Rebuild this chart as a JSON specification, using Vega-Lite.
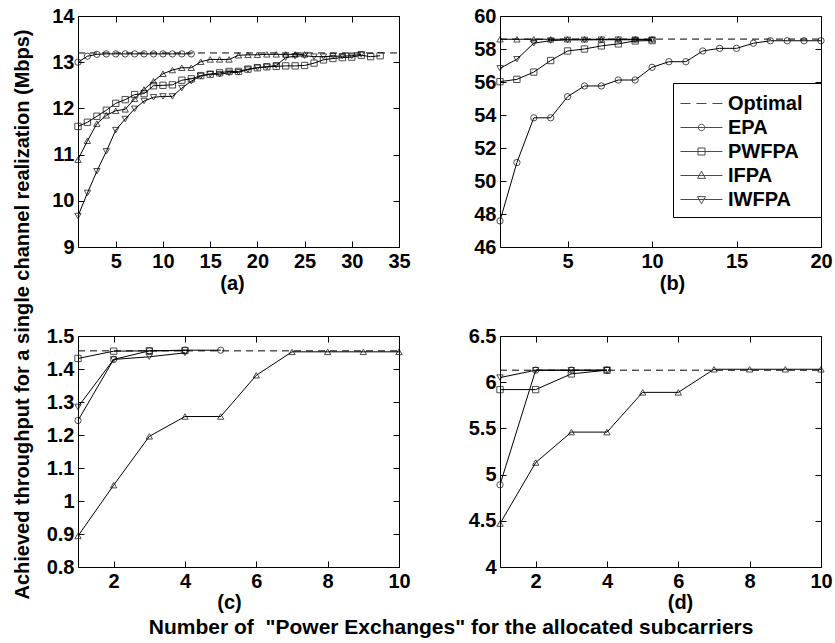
{
"$schema": "https://vega.github.io/schema/vega-lite/v6.json",
"padding": {"left": 12, "top": 5, "right": 5, "bottom": 3},
"title": {"text": "Achieved throughput for a single channel realization (Mbps)", "orient": "left", "anchor": "middle", "offset": 13, "dx": 7},
"datasets": {
"a": [
{"s":"Optimal","x":1,"y":13.2},{"s":"Optimal","x":35,"y":13.2},
{"s":"EPA","x":1,"y":13.0},{"s":"EPA","x":2,"y":13.13},{"s":"EPA","x":3,"y":13.17},{"s":"EPA","x":4,"y":13.18},{"s":"EPA","x":5,"y":13.18},{"s":"EPA","x":6,"y":13.18},{"s":"EPA","x":7,"y":13.18},{"s":"EPA","x":8,"y":13.18},{"s":"EPA","x":9,"y":13.18},{"s":"EPA","x":10,"y":13.18},{"s":"EPA","x":11,"y":13.18},{"s":"EPA","x":12,"y":13.18},{"s":"EPA","x":13,"y":13.18},
{"s":"PWFPA","x":1,"y":11.61},{"s":"PWFPA","x":2,"y":11.70},{"s":"PWFPA","x":3,"y":11.83},{"s":"PWFPA","x":4,"y":11.96},{"s":"PWFPA","x":5,"y":12.11},{"s":"PWFPA","x":6,"y":12.19},{"s":"PWFPA","x":7,"y":12.30},{"s":"PWFPA","x":8,"y":12.32},{"s":"PWFPA","x":9,"y":12.49},{"s":"PWFPA","x":10,"y":12.50},{"s":"PWFPA","x":11,"y":12.51},{"s":"PWFPA","x":12,"y":12.61},{"s":"PWFPA","x":13,"y":12.64},{"s":"PWFPA","x":14,"y":12.71},{"s":"PWFPA","x":15,"y":12.74},{"s":"PWFPA","x":16,"y":12.77},{"s":"PWFPA","x":17,"y":12.80},{"s":"PWFPA","x":18,"y":12.80},{"s":"PWFPA","x":19,"y":12.85},{"s":"PWFPA","x":20,"y":12.88},{"s":"PWFPA","x":21,"y":12.90},{"s":"PWFPA","x":22,"y":12.91},{"s":"PWFPA","x":23,"y":12.92},{"s":"PWFPA","x":24,"y":12.92},{"s":"PWFPA","x":25,"y":12.93},{"s":"PWFPA","x":26,"y":12.98},{"s":"PWFPA","x":27,"y":13.05},{"s":"PWFPA","x":28,"y":13.08},{"s":"PWFPA","x":29,"y":13.10},{"s":"PWFPA","x":30,"y":13.11},{"s":"PWFPA","x":31,"y":13.15},{"s":"PWFPA","x":32,"y":13.12},{"s":"PWFPA","x":33,"y":13.14},
{"s":"IFPA","x":1,"y":10.89},{"s":"IFPA","x":2,"y":11.30},{"s":"IFPA","x":3,"y":11.67},{"s":"IFPA","x":4,"y":11.85},{"s":"IFPA","x":5,"y":11.95},{"s":"IFPA","x":6,"y":11.98},{"s":"IFPA","x":7,"y":12.21},{"s":"IFPA","x":8,"y":12.41},{"s":"IFPA","x":9,"y":12.59},{"s":"IFPA","x":10,"y":12.75},{"s":"IFPA","x":11,"y":12.83},{"s":"IFPA","x":12,"y":12.88},{"s":"IFPA","x":13,"y":12.88},{"s":"IFPA","x":14,"y":13.01},{"s":"IFPA","x":15,"y":13.06},{"s":"IFPA","x":16,"y":13.06},{"s":"IFPA","x":17,"y":13.06},{"s":"IFPA","x":18,"y":13.15},{"s":"IFPA","x":19,"y":13.16},{"s":"IFPA","x":20,"y":13.16},{"s":"IFPA","x":21,"y":13.17},{"s":"IFPA","x":22,"y":13.17},{"s":"IFPA","x":23,"y":13.17},{"s":"IFPA","x":24,"y":13.17},{"s":"IFPA","x":25,"y":13.17},
{"s":"IWFPA","x":1,"y":9.67},{"s":"IWFPA","x":2,"y":10.17},{"s":"IWFPA","x":3,"y":10.64},{"s":"IWFPA","x":4,"y":11.07},{"s":"IWFPA","x":5,"y":11.53},{"s":"IWFPA","x":6,"y":11.77},{"s":"IWFPA","x":7,"y":11.99},{"s":"IWFPA","x":8,"y":12.16},{"s":"IWFPA","x":9,"y":12.24},{"s":"IWFPA","x":10,"y":12.26},{"s":"IWFPA","x":11,"y":12.26},{"s":"IWFPA","x":12,"y":12.44},{"s":"IWFPA","x":13,"y":12.59},{"s":"IWFPA","x":14,"y":12.70},{"s":"IWFPA","x":15,"y":12.74},{"s":"IWFPA","x":16,"y":12.74},{"s":"IWFPA","x":17,"y":12.77},{"s":"IWFPA","x":18,"y":12.78},{"s":"IWFPA","x":19,"y":12.84},{"s":"IWFPA","x":20,"y":12.88},{"s":"IWFPA","x":21,"y":12.90},{"s":"IWFPA","x":22,"y":12.93},{"s":"IWFPA","x":23,"y":13.10},{"s":"IWFPA","x":24,"y":13.13},{"s":"IWFPA","x":25,"y":13.14},{"s":"IWFPA","x":26,"y":13.12},{"s":"IWFPA","x":27,"y":13.12},{"s":"IWFPA","x":28,"y":13.13},{"s":"IWFPA","x":29,"y":13.13},{"s":"IWFPA","x":30,"y":13.14},{"s":"IWFPA","x":31,"y":13.17}
],
"b": [
{"s":"Optimal","x":1,"y":58.6},{"s":"Optimal","x":20,"y":58.6},
{"s":"EPA","x":1,"y":47.58},{"s":"EPA","x":2,"y":51.12},{"s":"EPA","x":3,"y":53.83},{"s":"EPA","x":4,"y":53.83},{"s":"EPA","x":5,"y":55.11},{"s":"EPA","x":6,"y":55.76},{"s":"EPA","x":7,"y":55.76},{"s":"EPA","x":8,"y":56.12},{"s":"EPA","x":9,"y":56.12},{"s":"EPA","x":10,"y":56.89},{"s":"EPA","x":11,"y":57.23},{"s":"EPA","x":12,"y":57.23},{"s":"EPA","x":13,"y":57.88},{"s":"EPA","x":14,"y":58.04},{"s":"EPA","x":15,"y":58.04},{"s":"EPA","x":16,"y":58.35},{"s":"EPA","x":17,"y":58.5},{"s":"EPA","x":18,"y":58.5},{"s":"EPA","x":19,"y":58.5},{"s":"EPA","x":20,"y":58.5},
{"s":"PWFPA","x":1,"y":56.02},{"s":"PWFPA","x":2,"y":56.16},{"s":"PWFPA","x":3,"y":56.6},{"s":"PWFPA","x":4,"y":57.3},{"s":"PWFPA","x":5,"y":57.88},{"s":"PWFPA","x":6,"y":58.0},{"s":"PWFPA","x":7,"y":58.19},{"s":"PWFPA","x":8,"y":58.31},{"s":"PWFPA","x":9,"y":58.49},{"s":"PWFPA","x":10,"y":58.51},
{"s":"IFPA","x":1,"y":58.59},{"s":"IFPA","x":2,"y":58.59},{"s":"IFPA","x":3,"y":58.59},{"s":"IFPA","x":4,"y":58.59},{"s":"IFPA","x":5,"y":58.59},{"s":"IFPA","x":6,"y":58.59},{"s":"IFPA","x":7,"y":58.59},{"s":"IFPA","x":8,"y":58.59},{"s":"IFPA","x":9,"y":58.59},{"s":"IFPA","x":10,"y":58.59},
{"s":"IWFPA","x":1,"y":56.83},{"s":"IWFPA","x":2,"y":57.38},{"s":"IWFPA","x":3,"y":58.35},{"s":"IWFPA","x":4,"y":58.51},{"s":"IWFPA","x":5,"y":58.55},{"s":"IWFPA","x":6,"y":58.55},{"s":"IWFPA","x":7,"y":58.56},{"s":"IWFPA","x":8,"y":58.56},{"s":"IWFPA","x":9,"y":58.56},{"s":"IWFPA","x":10,"y":58.56}
],
"c": [
{"s":"Optimal","x":1,"y":1.455},{"s":"Optimal","x":10,"y":1.455},
{"s":"EPA","x":1,"y":1.244},{"s":"EPA","x":2,"y":1.429},{"s":"EPA","x":3,"y":1.455},{"s":"EPA","x":4,"y":1.457},{"s":"EPA","x":5,"y":1.457},
{"s":"PWFPA","x":1,"y":1.432},{"s":"PWFPA","x":2,"y":1.454},{"s":"PWFPA","x":3,"y":1.455},{"s":"PWFPA","x":4,"y":1.456},
{"s":"IFPA","x":1,"y":0.894},{"s":"IFPA","x":2,"y":1.048},{"s":"IFPA","x":3,"y":1.196},{"s":"IFPA","x":4,"y":1.256},{"s":"IFPA","x":5,"y":1.256},{"s":"IFPA","x":6,"y":1.381},{"s":"IFPA","x":7,"y":1.452},{"s":"IFPA","x":8,"y":1.452},{"s":"IFPA","x":9,"y":1.452},{"s":"IFPA","x":10,"y":1.452},
{"s":"IWFPA","x":1,"y":1.285},{"s":"IWFPA","x":2,"y":1.429},{"s":"IWFPA","x":3,"y":1.437},{"s":"IWFPA","x":4,"y":1.449}
],
"d": [
{"s":"Optimal","x":1,"y":6.13},{"s":"Optimal","x":10,"y":6.13},
{"s":"EPA","x":1,"y":4.89},{"s":"EPA","x":2,"y":6.13},{"s":"EPA","x":3,"y":6.13},{"s":"EPA","x":4,"y":6.13},
{"s":"PWFPA","x":1,"y":5.92},{"s":"PWFPA","x":2,"y":5.92},{"s":"PWFPA","x":3,"y":6.09},{"s":"PWFPA","x":4,"y":6.13},
{"s":"IFPA","x":1,"y":4.47},{"s":"IFPA","x":2,"y":5.13},{"s":"IFPA","x":3,"y":5.46},{"s":"IFPA","x":4,"y":5.46},{"s":"IFPA","x":5,"y":5.89},{"s":"IFPA","x":6,"y":5.89},{"s":"IFPA","x":7,"y":6.14},{"s":"IFPA","x":8,"y":6.14},{"s":"IFPA","x":9,"y":6.14},{"s":"IFPA","x":10,"y":6.14},
{"s":"IWFPA","x":1,"y":6.05},{"s":"IWFPA","x":2,"y":6.13},{"s":"IWFPA","x":3,"y":6.13},{"s":"IWFPA","x":4,"y":6.13}
]
},
"vconcat": [
{
"title": {"text": "Number of \u00a0\"Power Exchanges\" for the allocated subcarriers", "orient": "bottom", "anchor": "middle", "dx": 12, "fontSize": 21},
"columns": 2,
"spacing": {"row": 89, "column": 101},
"bounds": "flush",
"resolve": {"scale": {"shape": "independent"}, "legend": {"shape": "independent"}},
"concat": [
{
"width": 321, "height": 231,
"data": {"name": "a"},
"resolve": {"axis": {"x": "independent", "y": "independent"}},
"layer": [
{"transform": [{"filter": "datum.s === 'Optimal'"}],
 "mark": {"type": "line", "strokeDash": [7,5], "color": "black", "strokeWidth": 1},
 "encoding": {
  "x": {"field": "x", "type": "quantitative", "scale": {"domain": [1,35], "nice": false, "zero": false}, "axis": {"orient": "top", "labels": false, "title": null, "values": [5,10,15,20,25,30,35]}},
  "y": {"field": "y", "type": "quantitative", "scale": {"domain": [9,14], "nice": false, "zero": false}, "axis": {"orient": "right", "labels": false, "title": null, "values": [9,10,11,12,13,14]}}}},
{"transform": [{"filter": "datum.s !== 'Optimal'"}],
 "mark": {"type": "line", "color": "black", "strokeWidth": 1},
 "encoding": {
  "x": {"field": "x", "type": "quantitative", "axis": {"orient": "bottom", "title": "(a)", "titleX": 154, "titleY": 26, "values": [5,10,15,20,25,30,35]}},
  "y": {"field": "y", "type": "quantitative", "axis": {"orient": "left", "title": null, "values": [9,10,11,12,13,14]}},
  "detail": {"field": "s"}}},
{"transform": [{"filter": "datum.s !== 'Optimal'"}],
 "mark": {"type": "point", "filled": false, "color": "black", "size": 40, "strokeWidth": 1},
 "encoding": {
  "x": {"field": "x", "type": "quantitative", "axis": null},
  "y": {"field": "y", "type": "quantitative", "axis": null},
  "shape": {"field": "s", "type": "nominal", "scale": {"domain": ["Optimal","EPA","PWFPA","IFPA","IWFPA"], "range": ["circle","circle","square","triangle-up","triangle-down"]}, "legend": null}}}
]
},
{
"width": 321, "height": 231,
"data": {"name": "b"},
"resolve": {"axis": {"x": "independent", "y": "independent"}, "scale": {"shape": "independent"}, "legend": {"shape": "independent"}},
"layer": [
{"transform": [{"filter": "datum.s === 'Optimal'"}],
 "mark": {"type": "line", "strokeDash": [7,5], "color": "black", "strokeWidth": 1},
 "encoding": {
  "x": {"field": "x", "type": "quantitative", "scale": {"domain": [1,20], "nice": false, "zero": false}, "axis": {"orient": "top", "labels": false, "title": null, "values": [5,10,15,20]}},
  "y": {"field": "y", "type": "quantitative", "scale": {"domain": [46,60], "nice": false, "zero": false}, "axis": {"orient": "right", "labels": false, "title": null, "values": [46,48,50,52,54,56,58,60]}}}},
{"transform": [{"filter": "datum.s !== 'Optimal'"}],
 "mark": {"type": "line", "color": "black", "strokeWidth": 1},
 "encoding": {
  "x": {"field": "x", "type": "quantitative", "axis": {"orient": "bottom", "title": "(b)", "titleX": 172, "titleY": 26, "values": [5,10,15,20]}},
  "y": {"field": "y", "type": "quantitative", "axis": {"orient": "left", "title": null, "values": [46,48,50,52,54,56,58,60]}},
  "detail": {"field": "s"}}},
{"transform": [{"filter": "datum.s !== 'Optimal'"}],
 "mark": {"type": "point", "filled": false, "color": "black", "size": 40, "strokeWidth": 1},
 "encoding": {
  "x": {"field": "x", "type": "quantitative", "axis": null},
  "y": {"field": "y", "type": "quantitative", "axis": null},
  "shape": {"field": "s", "type": "nominal", "scale": {"domain": ["Optimal","EPA","PWFPA","IFPA","IWFPA"], "range": ["circle","circle","square","triangle-up","triangle-down"]}, "legend": null}}},
{"transform": [{"filter": "false"}],
 "mark": {"type": "point", "filled": false, "color": "black", "strokeWidth": 1},
 "encoding": {
  "x": {"field": "x", "type": "quantitative", "axis": null},
  "y": {"field": "y", "type": "quantitative", "axis": null},
  "shape": {"field": "s", "type": "nominal",
   "scale": {"domain": ["Optimal","EPA","PWFPA","IFPA","IWFPA"], "range": ["M-1,0H-0.23M0.23,0H1M1.46,0H2.23", "M-1,0H2.23M0.365,0A0.25,0.25 0 1,0 0.865,0A0.25,0.25 0 1,0 0.365,0", "M-1,0H2.23M0.345,-0.27H0.885V0.27H0.345Z", "M-1,0H2.23M0.615,-0.33L0.92,0.22L0.31,0.22Z", "M-1,0H2.23M0.615,0.33L0.92,-0.22L0.31,-0.22Z"]},
   "legend": {"orient": "none", "legendX": 173, "legendY": 67, "title": "\u00a0", "titleOrient": "right", "titlePadding": 12, "titleFontSize": 20, "symbolSize": 676, "labelFontSize": 20, "labelFontWeight": "bold", "labelColor": "black", "labelOffset": 21, "padding": 7, "rowPadding": 0, "strokeColor": "black", "fillColor": "white", "symbolStrokeColor": "black", "symbolStrokeWidth": 1, "symbolFillColor": "transparent"}}}}
]
},
{
"width": 321, "height": 231,
"data": {"name": "c"},
"resolve": {"axis": {"x": "independent", "y": "independent"}},
"layer": [
{"transform": [{"filter": "datum.s === 'Optimal'"}],
 "mark": {"type": "line", "strokeDash": [7,5], "color": "black", "strokeWidth": 1},
 "encoding": {
  "x": {"field": "x", "type": "quantitative", "scale": {"domain": [1,10], "nice": false, "zero": false}, "axis": {"orient": "top", "labels": false, "title": null, "values": [2,4,6,8,10]}},
  "y": {"field": "y", "type": "quantitative", "scale": {"domain": [0.8,1.5], "nice": false, "zero": false}, "axis": {"orient": "right", "labels": false, "title": null, "values": [0.8,0.9,1,1.1,1.2,1.3,1.4,1.5]}}}},
{"transform": [{"filter": "datum.s !== 'Optimal'"}],
 "mark": {"type": "line", "color": "black", "strokeWidth": 1},
 "encoding": {
  "x": {"field": "x", "type": "quantitative", "axis": {"orient": "bottom", "title": "(c)", "titleX": 151, "titleY": 25, "values": [2,4,6,8,10]}},
  "y": {"field": "y", "type": "quantitative", "axis": {"orient": "left", "title": null, "values": [0.8,0.9,1,1.1,1.2,1.3,1.4,1.5], "format": "~g"}},
  "detail": {"field": "s"}}},
{"transform": [{"filter": "datum.s !== 'Optimal'"}],
 "mark": {"type": "point", "filled": false, "color": "black", "size": 40, "strokeWidth": 1},
 "encoding": {
  "x": {"field": "x", "type": "quantitative", "axis": null},
  "y": {"field": "y", "type": "quantitative", "axis": null},
  "shape": {"field": "s", "type": "nominal", "scale": {"domain": ["Optimal","EPA","PWFPA","IFPA","IWFPA"], "range": ["circle","circle","square","triangle-up","triangle-down"]}, "legend": null}}}
]
},
{
"width": 321, "height": 231,
"data": {"name": "d"},
"resolve": {"axis": {"x": "independent", "y": "independent"}},
"layer": [
{"transform": [{"filter": "datum.s === 'Optimal'"}],
 "mark": {"type": "line", "strokeDash": [7,5], "color": "black", "strokeWidth": 1},
 "encoding": {
  "x": {"field": "x", "type": "quantitative", "scale": {"domain": [1,10], "nice": false, "zero": false}, "axis": {"orient": "top", "labels": false, "title": null, "values": [2,4,6,8,10]}},
  "y": {"field": "y", "type": "quantitative", "scale": {"domain": [4,6.5], "nice": false, "zero": false}, "axis": {"orient": "right", "labels": false, "title": null, "values": [4,4.5,5,5.5,6,6.5]}}}},
{"transform": [{"filter": "datum.s !== 'Optimal'"}],
 "mark": {"type": "line", "color": "black", "strokeWidth": 1},
 "encoding": {
  "x": {"field": "x", "type": "quantitative", "axis": {"orient": "bottom", "title": "(d)", "titleX": 180, "titleY": 25, "values": [2,4,6,8,10]}},
  "y": {"field": "y", "type": "quantitative", "axis": {"orient": "left", "title": null, "values": [4,4.5,5,5.5,6,6.5], "format": "~g"}},
  "detail": {"field": "s"}}},
{"transform": [{"filter": "datum.s !== 'Optimal'"}],
 "mark": {"type": "point", "filled": false, "color": "black", "size": 40, "strokeWidth": 1},
 "encoding": {
  "x": {"field": "x", "type": "quantitative", "axis": null},
  "y": {"field": "y", "type": "quantitative", "axis": null},
  "shape": {"field": "s", "type": "nominal", "scale": {"domain": ["Optimal","EPA","PWFPA","IFPA","IWFPA"], "range": ["circle","circle","square","triangle-up","triangle-down"]}, "legend": null}}}
]
}
]
}
],
"config": {
 "font": "Liberation Sans",
 "view": {"stroke": "black", "strokeWidth": 1},
 "axis": {"grid": false, "domain": false, "tickColor": "black", "tickSize": -6, "tickWidth": 1, "labelFontSize": 20, "labelFontWeight": "bold", "labelColor": "black", "labelPadding": 10, "labelFlush": false, "labelOverlap": false, "titleFontSize": 20, "titleFontWeight": "bold", "titleColor": "black", "titlePadding": 0},
 "legend": {"labelFont": "Liberation Sans"},
 "title": {"fontSize": 20, "fontWeight": "bold", "color": "black", "font": "Liberation Sans"}
}
}
